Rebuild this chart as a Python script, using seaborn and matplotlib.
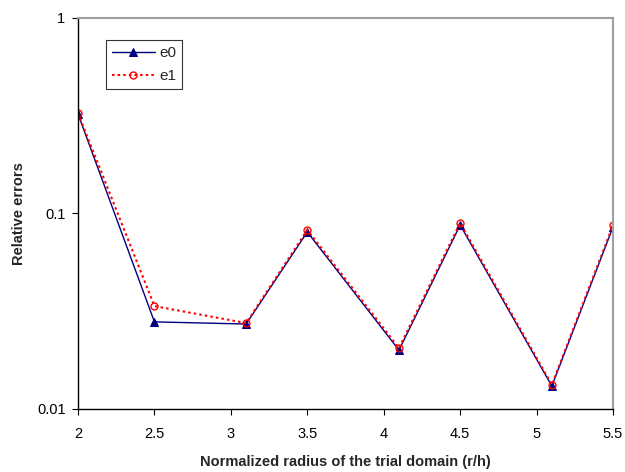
import matplotlib
matplotlib.use("Agg")
import matplotlib.pyplot as plt
import seaborn as sns
import pandas as pd
from matplotlib.ticker import FixedLocator, NullLocator, FixedFormatter

radius = [2.0, 2.5, 3.1, 3.5, 4.1, 4.5, 5.1, 5.5]
e0 = [0.323, 0.0279, 0.0272, 0.0804, 0.0200, 0.0873, 0.0131, 0.0853]
e1 = [0.326, 0.0336, 0.0275, 0.0824, 0.0205, 0.0894, 0.0133, 0.0870]
xticks = [2, 2.5, 3, 3.5, 4, 4.5, 5, 5.5]
xtick_labels = ["2", "2.5", "3", "3.5", "4", "4.5", "5", "5.5"]
yticks = [0.01, 0.1, 1]
ytick_labels = ["0.01", "0.1", "1"]

sns.set_style("white")
plt.rcParams['font.family'] = ['Liberation Sans', 'DejaVu Sans']

fig = plt.figure(figsize=(6.25, 4.72), dpi=100)
ax = fig.add_axes([0.1248, 0.1335, 0.856, 0.8284])

df0 = pd.DataFrame({"x": radius, "y": e0})
df1 = pd.DataFrame({"x": radius, "y": e1})
sns.lineplot(data=df0, x="x", y="y", ax=ax, color="#000080", lw=1.0,
             marker="^", markersize=5.5, markeredgecolor="#000080",
             markerfacecolor="#000080", label="e0")
sns.lineplot(data=df1, x="x", y="y", ax=ax, color="red", lw=1.5,
             linestyle=(0, (1.2, 1.5)), marker="o", markersize=5,
             markerfacecolor="none", markeredgecolor="red", markeredgewidth=1.0,
             label="e1")

ax.set_yscale("log")
ax.set_ylim(0.01, 1)
ax.set_xlim(2, 5.5)
ax.yaxis.set_major_locator(FixedLocator(yticks))
ax.yaxis.set_major_formatter(FixedFormatter(ytick_labels))
ax.yaxis.set_minor_locator(NullLocator())
ax.xaxis.set_major_locator(FixedLocator(xticks))
ax.xaxis.set_major_formatter(FixedFormatter(xtick_labels))

ax.tick_params(axis="both", direction="out", length=4, width=0.8,
               colors="black", labelsize=10.5, left=True, bottom=True)
ax.tick_params(axis="y", pad=5)
ax.tick_params(axis="x", pad=9)

for s in ["left", "bottom"]:
    ax.spines[s].set_color("black")
    ax.spines[s].set_linewidth(1.0)
for s in ["top", "right"]:
    ax.spines[s].set_color("#a0a0a0")
    ax.spines[s].set_linewidth(1.5)
    ax.spines[s].set_visible(True)

ax.set_xlabel("Normalized radius of the trial domain (r/h)", fontsize=10.5,
              fontweight="bold", labelpad=10)
ax.set_ylabel("Relative errors", fontsize=10.5, fontweight="bold", labelpad=8)

leg = ax.legend(loc="upper left", bbox_to_anchor=(0.052, 0.944), frameon=True,
                fancybox=False, edgecolor="black", fontsize=11,
                handlelength=2.8, borderpad=0.4, labelspacing=0.6,
                handletextpad=0.3, borderaxespad=0)
leg.get_frame().set_linewidth(0.8)

fig.savefig("out.png", dpi=100)
